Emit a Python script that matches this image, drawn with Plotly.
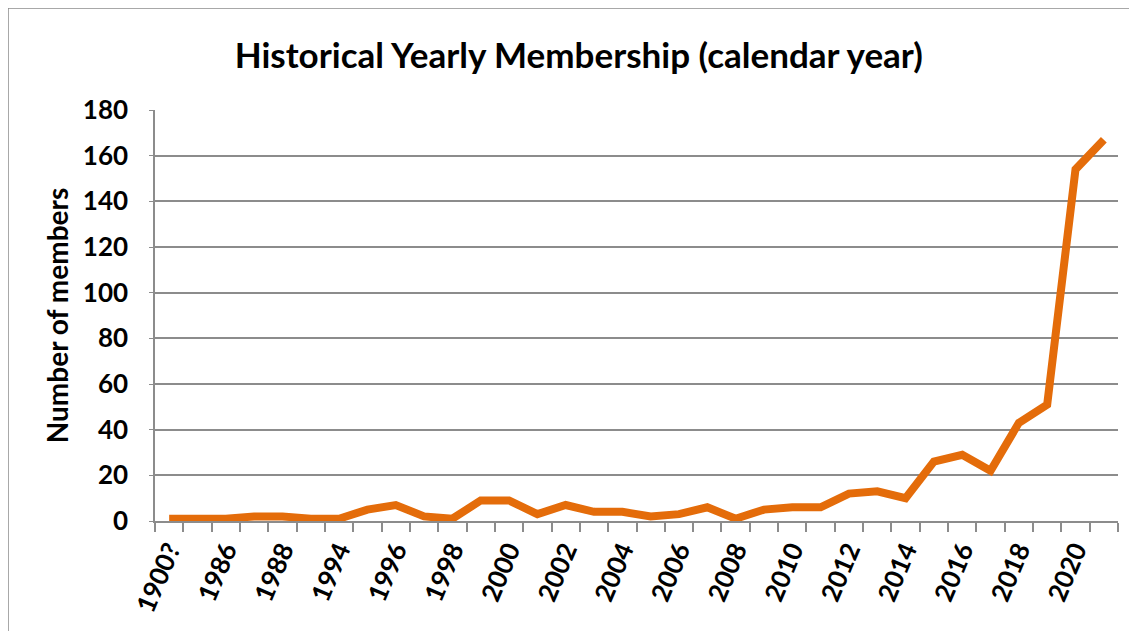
import plotly.graph_objects as go

categories = ["1900?", "1985", "1986", "1987", "1988", "1990", "1994", "1995", "1996", "1997",
              "1998", "1999", "2000", "2001", "2002", "2003", "2004", "2005", "2006", "2007",
              "2008", "2009", "2010", "2011", "2012", "2013", "2014", "2015", "2016", "2017",
              "2018", "2019", "2020", "2021"]
members = [1, 1, 1, 2, 2, 1, 1, 5, 7, 2,
           1, 9, 9, 3, 7, 4, 4, 2, 3, 6,
           1, 5, 6, 6, 12, 13, 10, 26, 29, 22,
           43, 51, 154, 167]
tick_text = [c if i % 2 == 0 else "" for i, c in enumerate(categories)]

fig = go.Figure()
fig.add_trace(go.Scatter(
    x=categories, y=members, mode="lines",
    line=dict(color="#E46C0A", width=8),
    hoverinfo="x+y", showlegend=False,
))

fig.update_layout(
    width=1137, height=631,
    margin=dict(l=147, r=27, t=102, b=118, autoexpand=False),
    paper_bgcolor="white", plot_bgcolor="white",
    title=dict(text="<b>Historical Yearly Membership (calendar year)</b>",
               x=0.502, xanchor="center", y=0.924, yanchor="middle", automargin=False,
               font=dict(family="Lato", size=35, color="black")),
    xaxis=dict(
        type="category", tickson="boundaries",
        tickvals=categories, ticktext=tick_text,
        tickangle=-67, automargin=False, ticklabelstandoff=2,
        tickfont=dict(family="Lato", size=26, color="black", weight="bold"),
        ticks="outside", ticklen=9, tickcolor="#8c8c8c", tickwidth=1.5,
        showline=True, linecolor="#8c8c8c", linewidth=1.5,
        showgrid=False, range=[-0.5, 33.5], fixedrange=True,
    ),
    yaxis=dict(
        range=[0, 180], dtick=20, automargin=False,
        tickfont=dict(family="Lato", size=26, color="black", weight="bold"),
        ticks="outside", ticklen=4, tickcolor="#8c8c8c", ticklabelstandoff=16,
        showline=True, linecolor="#8c8c8c", linewidth=1.5,
        showgrid=True, gridcolor="#8c8c8c", gridwidth=1.5,
        zeroline=False,
        title=dict(text="<b>Number of members</b>", standoff=6,
                   font=dict(family="Lato", size=28, color="black")),
    ),
    shapes=[dict(type="rect", xref="paper", yref="paper",
                 x0=-147 / 963, x1=1.5, y0=-0.6, y1=513 / 411,
                 line=dict(color="#8c8c8c", width=1.5), layer="below")],
)

fig.write_html("out.html")
